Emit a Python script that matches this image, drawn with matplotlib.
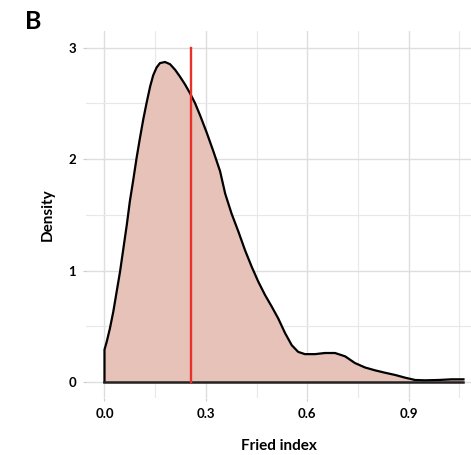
import matplotlib.pyplot as plt

# density curve
fried_x = [0.0, 0.0, 0.0065, 0.016, 0.026, 0.036, 0.046, 0.056, 0.066, 0.075, 0.085,
           0.095, 0.105, 0.115, 0.125, 0.135, 0.144, 0.154, 0.164, 0.179, 0.194,
           0.209, 0.223, 0.238, 0.253, 0.268, 0.283, 0.302, 0.322, 0.342, 0.357,
           0.376, 0.396, 0.416, 0.436, 0.455, 0.475, 0.495, 0.514, 0.534, 0.554,
           0.573, 0.593, 0.623, 0.652, 0.682, 0.712, 0.741, 0.771, 0.80, 0.83,
           0.86, 0.889, 0.919, 0.948, 0.988, 1.027, 1.062, 1.062]
density = [0.0, 0.29, 0.36, 0.48, 0.63, 0.81, 0.99, 1.20, 1.41, 1.62, 1.81,
           2.01, 2.19, 2.36, 2.51, 2.65, 2.75, 2.82, 2.86, 2.87, 2.85,
           2.80, 2.74, 2.67, 2.59, 2.50, 2.39, 2.24, 2.07, 1.89, 1.69,
           1.51, 1.35, 1.18, 1.03, 0.90, 0.78, 0.675, 0.57, 0.44, 0.33,
           0.27, 0.25, 0.25, 0.26, 0.26, 0.23, 0.17, 0.13, 0.105, 0.083,
           0.063, 0.039, 0.018, 0.015, 0.018, 0.024, 0.024, 0.0]
median_x = 0.256

x_major = [0.0, 0.3, 0.6, 0.9]
x_minor = [0.15, 0.45, 0.75, 1.05]
y_major = [0, 1, 2, 3]
y_minor = [0.5, 1.5, 2.5]

plt.rcParams['font.family'] = ['Lato', 'DejaVu Sans']

fig = plt.figure(figsize=(4.71, 4.55), dpi=100)
ax = fig.add_axes([86/471, 57/455, 385/471, 367/455])

ax.fill(fried_x, density, facecolor='#e6c2b9', edgecolor='none', zorder=2)
ax.plot(fried_x[:-1], density[:-1], color='black', lw=1.6, zorder=3,
        solid_joinstyle='round')
ax.plot([0, fried_x[-1]], [0, 0], color='#222222', lw=1.8, zorder=3)
ax.plot([median_x, median_x], [0, 3], color='#e8312b', lw=1.7, zorder=4)

ax.set_xlim(-0.0547, 1.0843)
ax.set_ylim(-0.1435, 3.148)
ax.set_xticks(x_major)
ax.set_xticks(x_minor, minor=True)
ax.set_yticks(y_major)
ax.set_yticks(y_minor, minor=True)
ax.set_xticklabels(['0.0', '0.3', '0.6', '0.9'], fontweight='bold', fontsize=9.5)
ax.set_yticklabels(['0', '1', '2', '3'], fontweight='bold', fontsize=9.5)

ax.grid(which='major', color='#dedede', lw=1.0, zorder=0)
ax.grid(which='minor', color='#e8e8e8', lw=0.8, zorder=0)
ax.set_axisbelow(True)
for s in ax.spines.values():
    s.set_visible(False)
ax.tick_params(which='major', length=2, color='#cccccc', pad=5)
ax.tick_params(which='minor', length=0)

ax.set_xlabel('Fried index', fontweight='bold', fontsize=11, labelpad=14)
ax.set_ylabel('Density', fontweight='bold', fontsize=11, labelpad=10)

fig.text(25/471, 1 - 29/455, 'B', fontsize=18, fontweight='bold', ha='left', va='baseline')

fig.savefig('out.png', dpi=100)
